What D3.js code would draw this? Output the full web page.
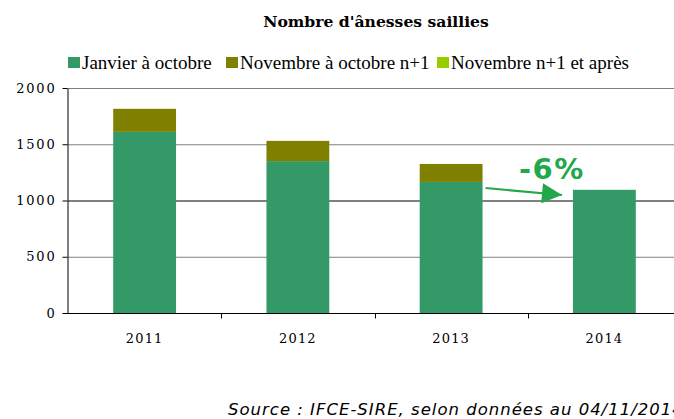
<!DOCTYPE html>
<html>
<head>
<meta charset="utf-8">
<script src="https://cdn.jsdelivr.net/npm/d3@7"></script>
<style>
  body { margin: 0; overflow: hidden; background: #fff; }
</style>
</head>
<body>
<svg id="chart" width="674" height="419"></svg>
<script>
// data
const years = ['2011', '2012', '2013', '2014'];
const janOct = [1610, 1350, 1165, 1095];
const novOct = [205, 180, 160, 0];
const novApres = [0, 0, 0, 0];
const seriesNames = ['Janvier à octobre', 'Novembre à octobre n+1', 'Novembre n+1 et après'];
const seriesColors = ['#339966', '#808000', '#99cc00'];
const yTicks = [0, 500, 1000, 1500, 2000];

const svg = d3.select('#chart');

const x = d3.scaleBand().domain(years).range([68, 681]).paddingInner(0.59).paddingOuter(0.295);
const y = d3.scaleLinear().domain([0, 2000]).range([313, 88]);

// gridlines
svg.append('g').selectAll('line')
  .data(yTicks.slice(1))
  .enter().append('line')
  .attr('x1', 68).attr('x2', 674)
  .attr('y1', d => y(d) + 0.5).attr('y2', d => y(d) + 0.5)
  .attr('stroke', d => d === 1000 ? '#000' : '#808080')
  .attr('stroke-width', 1);

// stacked bars
const rows = years.map((yr, i) => ({year: yr, s0: janOct[i], s1: novOct[i], s2: novApres[i]}));
const stack = d3.stack().keys(['s0', 's1', 's2'])(rows);

svg.append('g').selectAll('g')
  .data(stack)
  .enter().append('g')
  .attr('fill', (d, i) => seriesColors[i])
  .selectAll('rect')
  .data(d => d)
  .enter().append('rect')
  .attr('x', d => x(d.data.year))
  .attr('width', x.bandwidth())
  .attr('y', d => y(d[1]))
  .attr('height', d => y(d[0]) - y(d[1]));

// y axis
const yAxis = svg.append('g')
  .attr('transform', 'translate(67.5,0)')
  .call(d3.axisLeft(y).tickValues(yTicks).tickFormat(d3.format('d')).tickSize(5).tickSizeOuter(0).tickPadding(6));
yAxis.select('.domain').attr('stroke', '#000');
yAxis.selectAll('line').attr('stroke', '#000');
yAxis.selectAll('text')
  .attr('font-family', 'DejaVu Serif')
  .attr('font-size', 13)
  .attr('letter-spacing', '1.8px')
  .attr('fill', '#000');

// x axis
const xAxis = svg.append('g')
  .attr('transform', 'translate(0,313.5)')
  .call(d3.axisBottom(x).tickSize(0).tickPadding(20));
xAxis.select('.domain').remove();
xAxis.append('line')
  .attr('x1', 67).attr('x2', 674)
  .attr('stroke', '#000');
xAxis.selectAll('.bnd')
  .data(years.slice(1))
  .enter().append('line')
  .attr('x1', d => Math.round(x(d) - x.step() * x.paddingInner() / 2) + 0.5)
  .attr('x2', d => Math.round(x(d) - x.step() * x.paddingInner() / 2) + 0.5)
  .attr('y1', 0).attr('y2', 5)
  .attr('stroke', '#000');
xAxis.selectAll('text')
  .attr('font-family', 'DejaVu Serif')
  .attr('font-size', 13)
  .attr('letter-spacing', '1.2px')
  .attr('fill', '#000');

// title
svg.append('text')
  .attr('x', 376).attr('y', 27)
  .attr('text-anchor', 'middle')
  .attr('font-family', 'DejaVu Serif')
  .attr('font-weight', 'bold')
  .attr('font-size', 15.6)
  .text("Nombre d'ânesses saillies");

// legend
const legendX = [68, 226, 437];
const legend = svg.append('g').selectAll('g')
  .data(seriesNames)
  .enter().append('g')
  .attr('transform', (d, i) => 'translate(' + [legendX[i], 57] + ')');
legend.append('rect')
  .attr('width', 12).attr('height', 11)
  .attr('fill', (d, i) => seriesColors[i]);
legend.append('text')
  .attr('x', 14).attr('y', 11.5)
  .attr('font-family', 'Liberation Serif')
  .attr('font-size', 19)
  .text(d => d);

// -6% annotation
const arrowColor = '#22a84a';
svg.append('defs').append('marker')
  .attr('id', 'head')
  .attr('viewBox', '0 0 10 10')
  .attr('refX', 10).attr('refY', 5)
  .attr('markerWidth', 21).attr('markerHeight', 20)
  .attr('markerUnits', 'userSpaceOnUse')
  .attr('orient', 'auto')
  .append('path')
  .attr('d', 'M0 0L10 5L0 10Z')
  .attr('fill', arrowColor);
svg.append('line')
  .attr('x1', x('2013') + x.bandwidth() + 3).attr('y1', 188)
  .attr('x2', 562).attr('y2', 195)
  .attr('stroke', arrowColor)
  .attr('stroke-width', 2.2)
  .attr('marker-end', 'url(#head)');
svg.append('text')
  .attr('x', 519).attr('y', 179)
  .attr('font-family', 'DejaVu Sans')
  .attr('font-weight', 'bold')
  .attr('font-size', 29)
  .attr('letter-spacing', '1.5px')
  .attr('fill', arrowColor)
  .text('-6%');

// source
svg.append('text')
  .attr('x', 228).attr('y', 415)
  .attr('font-family', 'DejaVu Sans')
  .attr('font-style', 'italic')
  .attr('font-size', 16.5)
  .attr('letter-spacing', '1px')
  .text('Source : IFCE-SIRE, selon données au 04/11/2014');
</script>
</body>
</html>
